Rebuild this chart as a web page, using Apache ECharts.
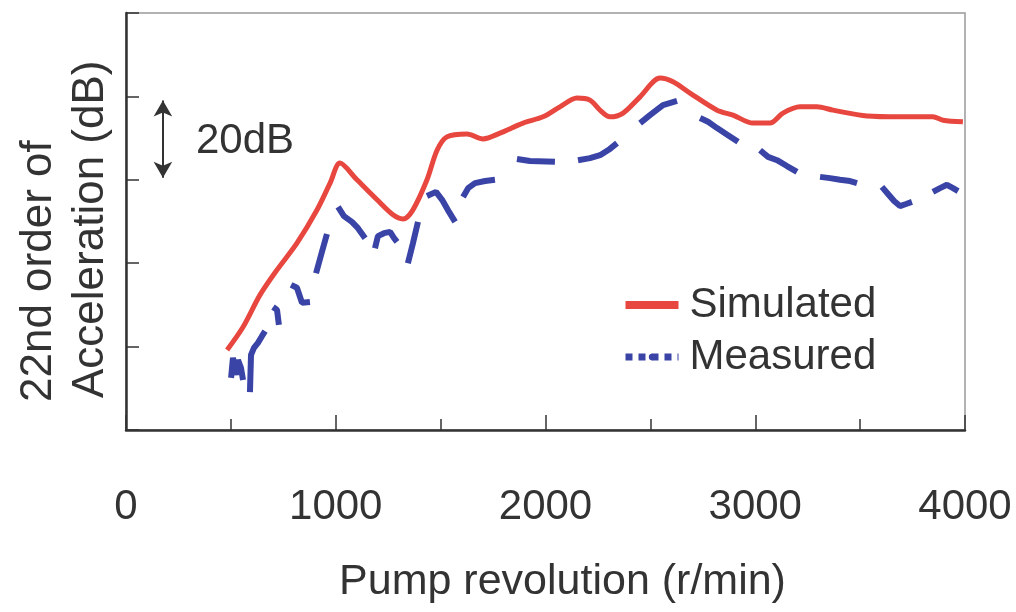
<!DOCTYPE html>
<html>
<head>
<meta charset="utf-8">
<script src="https://cdn.jsdelivr.net/npm/echarts@6/dist/echarts.min.js"></script>
<style>
  html, body { margin: 0; padding: 0; background: #fff; }
  #chart { width: 1016px; height: 612px; }
</style>
</head>
<body>
<div id="chart"></div>
<script>
// x tick labels (r/min)
var xTicks = [0, 1000, 2000, 3000, 4000];

// simulated curve (dB is relative, 20 dB per tick)
var simRpm = [482, 558, 639, 720, 815, 911, 973, 1020, 1101, 1197, 1273, 1321, 1368, 1435, 1483, 1530,
  1626, 1702, 1783, 1893, 1988, 2069, 2150, 2212, 2260, 2307, 2370, 2451, 2546, 2608, 2689, 2818,
  2894, 2989, 3070, 3132, 3213, 3294, 3371, 3533, 3690, 3847, 3895, 3990];
var simDb = [19.2, 24.7, 32.4, 38.4, 44.8, 52.8, 59.2, 64.0, 60.0, 55.2, 51.6, 50.6, 52.8, 60.0, 67.1, 70.3,
  71.0, 69.8, 71.2, 73.6, 75.1, 77.5, 79.6, 79.1, 76.7, 75.1, 76.0, 79.9, 84.4, 83.5, 80.8, 76.7,
  75.5, 73.6, 73.6, 76.0, 77.5, 77.5, 76.7, 75.3, 75.1, 75.1, 74.3, 73.9];

// measured curve, one list per visible dash
var measRpm = [
  [501, 510, 524, 534, 548, 558],
  [591, 596, 610, 629, 648, 663],
  [701, 720, 729],
  [787, 815, 839, 877],
  [906, 934, 958],
  [1011, 1039, 1077, 1106, 1140],
  [1187, 1201, 1230, 1259, 1278, 1292],
  [1344, 1368, 1392],
  [1435, 1478, 1507, 1540, 1569],
  [1607, 1631, 1664, 1712, 1759],
  [1864, 1926, 2045],
  [2155, 2212, 2260, 2307, 2341],
  [2451, 2498, 2560, 2627],
  [2737, 2775, 2818, 2870, 2918],
  [3023, 3061, 3104, 3151, 3199],
  [3309, 3356, 3404, 3452, 3485],
  [3604, 3633, 3662, 3690, 3719, 3747],
  [3847, 3881, 3914, 3943, 3967]
];
var measDb = [
  [12.5, 17.3, 13.2, 16.8, 14.9, 12.0],
  [9.1, 18.0, 19.7, 20.9, 22.5, 23.7],
  [29.5, 28.8, 25.2],
  [34.8, 34.1, 30.5, 30.7],
  [37.6, 42.7, 47.0],
  [53.5, 51.3, 49.9, 48.4, 46.0],
  [43.6, 46.5, 47.2, 47.5, 46.0, 45.1],
  [40.0, 44.8, 49.9],
  [56.1, 57.1, 55.2, 52.3, 49.9],
  [55.9, 58.0, 59.2, 59.7, 60.0],
  [65.0, 64.5, 64.3],
  [64.7, 65.2, 65.9, 67.4, 68.8],
  [73.6, 75.5, 77.9, 78.9],
  [74.8, 73.9, 72.4, 70.7, 69.1],
  [67.1, 65.5, 64.7, 63.3, 61.9],
  [60.7, 60.4, 60.0, 59.7, 59.2],
  [58.3, 56.6, 54.9, 53.7, 54.2, 54.7],
  [57.1, 58.0, 58.8, 58.0, 57.3]
];

// the 20 dB scale bar
var barRpm = 176;
var barDb = [79, 60.5];

var font = 'Liberation Sans, Arial, sans-serif';
var textColor = '#333';
var red = '#e8473f';
var blue = '#3a44a6';

var series = [{
  name: 'Simulated',
  type: 'line',
  data: simRpm.map(function (x, i) { return [x, simDb[i]]; }),
  symbol: 'none',
  smooth: 0.3,
  lineStyle: { color: red, width: 5 },
  itemStyle: { color: red },
  z: 3,
  markLine: {
    silent: true,
    symbol: ['arrow', 'arrow'],
    symbolSize: [14, 16],
    label: { show: false },
    lineStyle: { color: '#333', width: 2, type: 'solid' },
    data: [[{ coord: [barRpm, barDb[0]] }, { coord: [barRpm, barDb[1]] }]]
  }
}];
// each dash of the measured curve is its own piece, all under one legend name
measRpm.forEach(function (seg, s) {
  series.push({
    name: 'Measured',
    type: 'line',
    data: seg.map(function (x, i) { return [x, measDb[s][i]]; }),
    symbol: 'none',
    lineStyle: { color: blue, width: 6 },
    itemStyle: { color: blue },
    z: 2
  });
});

var chart = echarts.init(document.getElementById('chart'));
chart.setOption({
  backgroundColor: '#fff',
  animation: false,
  grid: {
    left: 126, right: 51, top: 13, bottom: 182,
    show: true, borderColor: '#999', borderWidth: 1.5, backgroundColor: 'transparent'
  },
  legend: {
    orient: 'vertical',
    left: 617, top: 279,
    itemWidth: 53, itemHeight: 8, itemGap: 10,
    textStyle: { fontFamily: font, fontSize: 42, color: textColor, lineHeight: 42, padding: [0, 0, 0, 6] },
    data: [
      { name: 'Simulated', icon: 'rect', itemStyle: { color: red } },
      { name: 'Measured', lineStyle: { type: [7, 6], width: 7, color: blue } }
    ]
  },
  xAxis: {
    type: 'value',
    min: 0, max: 4000, interval: 1000,
    splitLine: { show: false },
    axisLine: { lineStyle: { color: '#333', width: 2.5 } },
    axisTick: { inside: true, length: 15, lineStyle: { color: '#333', width: 1.5 } },
    minorTick: { show: true, splitNumber: 2, length: 11, lineStyle: { color: '#333', width: 1.5 } },
    axisLabel: {
      margin: 56, fontFamily: font, fontSize: 42, color: textColor,
      formatter: function (v) { return xTicks.indexOf(v) >= 0 ? String(v) : ''; }
    },
    name: 'Pump revolution (r/min)',
    nameLocation: 'middle',
    nameGap: 131,
    nameTextStyle: { fontFamily: font, fontSize: 43, color: textColor, padding: [0, 0, 0, 34] }
  },
  yAxis: {
    type: 'value',
    min: 0, max: 100, interval: 20,
    splitLine: { show: false },
    axisLine: { lineStyle: { color: '#333', width: 2.5 } },
    axisTick: { inside: true, length: 13, lineStyle: { color: '#333', width: 1.5 } },
    axisLabel: { show: false }
  },
  series: series
});

// y title (two rotated lines) and the "20dB" note
var mid = chart.convertToPixel({ gridIndex: 0 }, [barRpm, (barDb[0] + barDb[1]) / 2]);
chart.setOption({
  graphic: [
    {
      type: 'text', x: 39, y: 402, rotation: Math.PI / 2,
      style: { text: '22nd order of', fontFamily: font, fontSize: 44, fill: textColor,
        textAlign: 'left', textVerticalAlign: 'middle' }
    },
    {
      type: 'text', x: 91, y: 398, rotation: Math.PI / 2,
      style: { text: 'Acceleration (dB)', fontFamily: font, fontSize: 44, fill: textColor,
        textAlign: 'left', textVerticalAlign: 'middle' }
    },
    {
      type: 'text', x: mid[0] + 33, y: mid[1] + 2,
      style: { text: '20dB', fontFamily: font, fontSize: 42, fill: textColor,
        textAlign: 'left', textVerticalAlign: 'middle' }
    }
  ]
});
</script>
</body>
</html>
